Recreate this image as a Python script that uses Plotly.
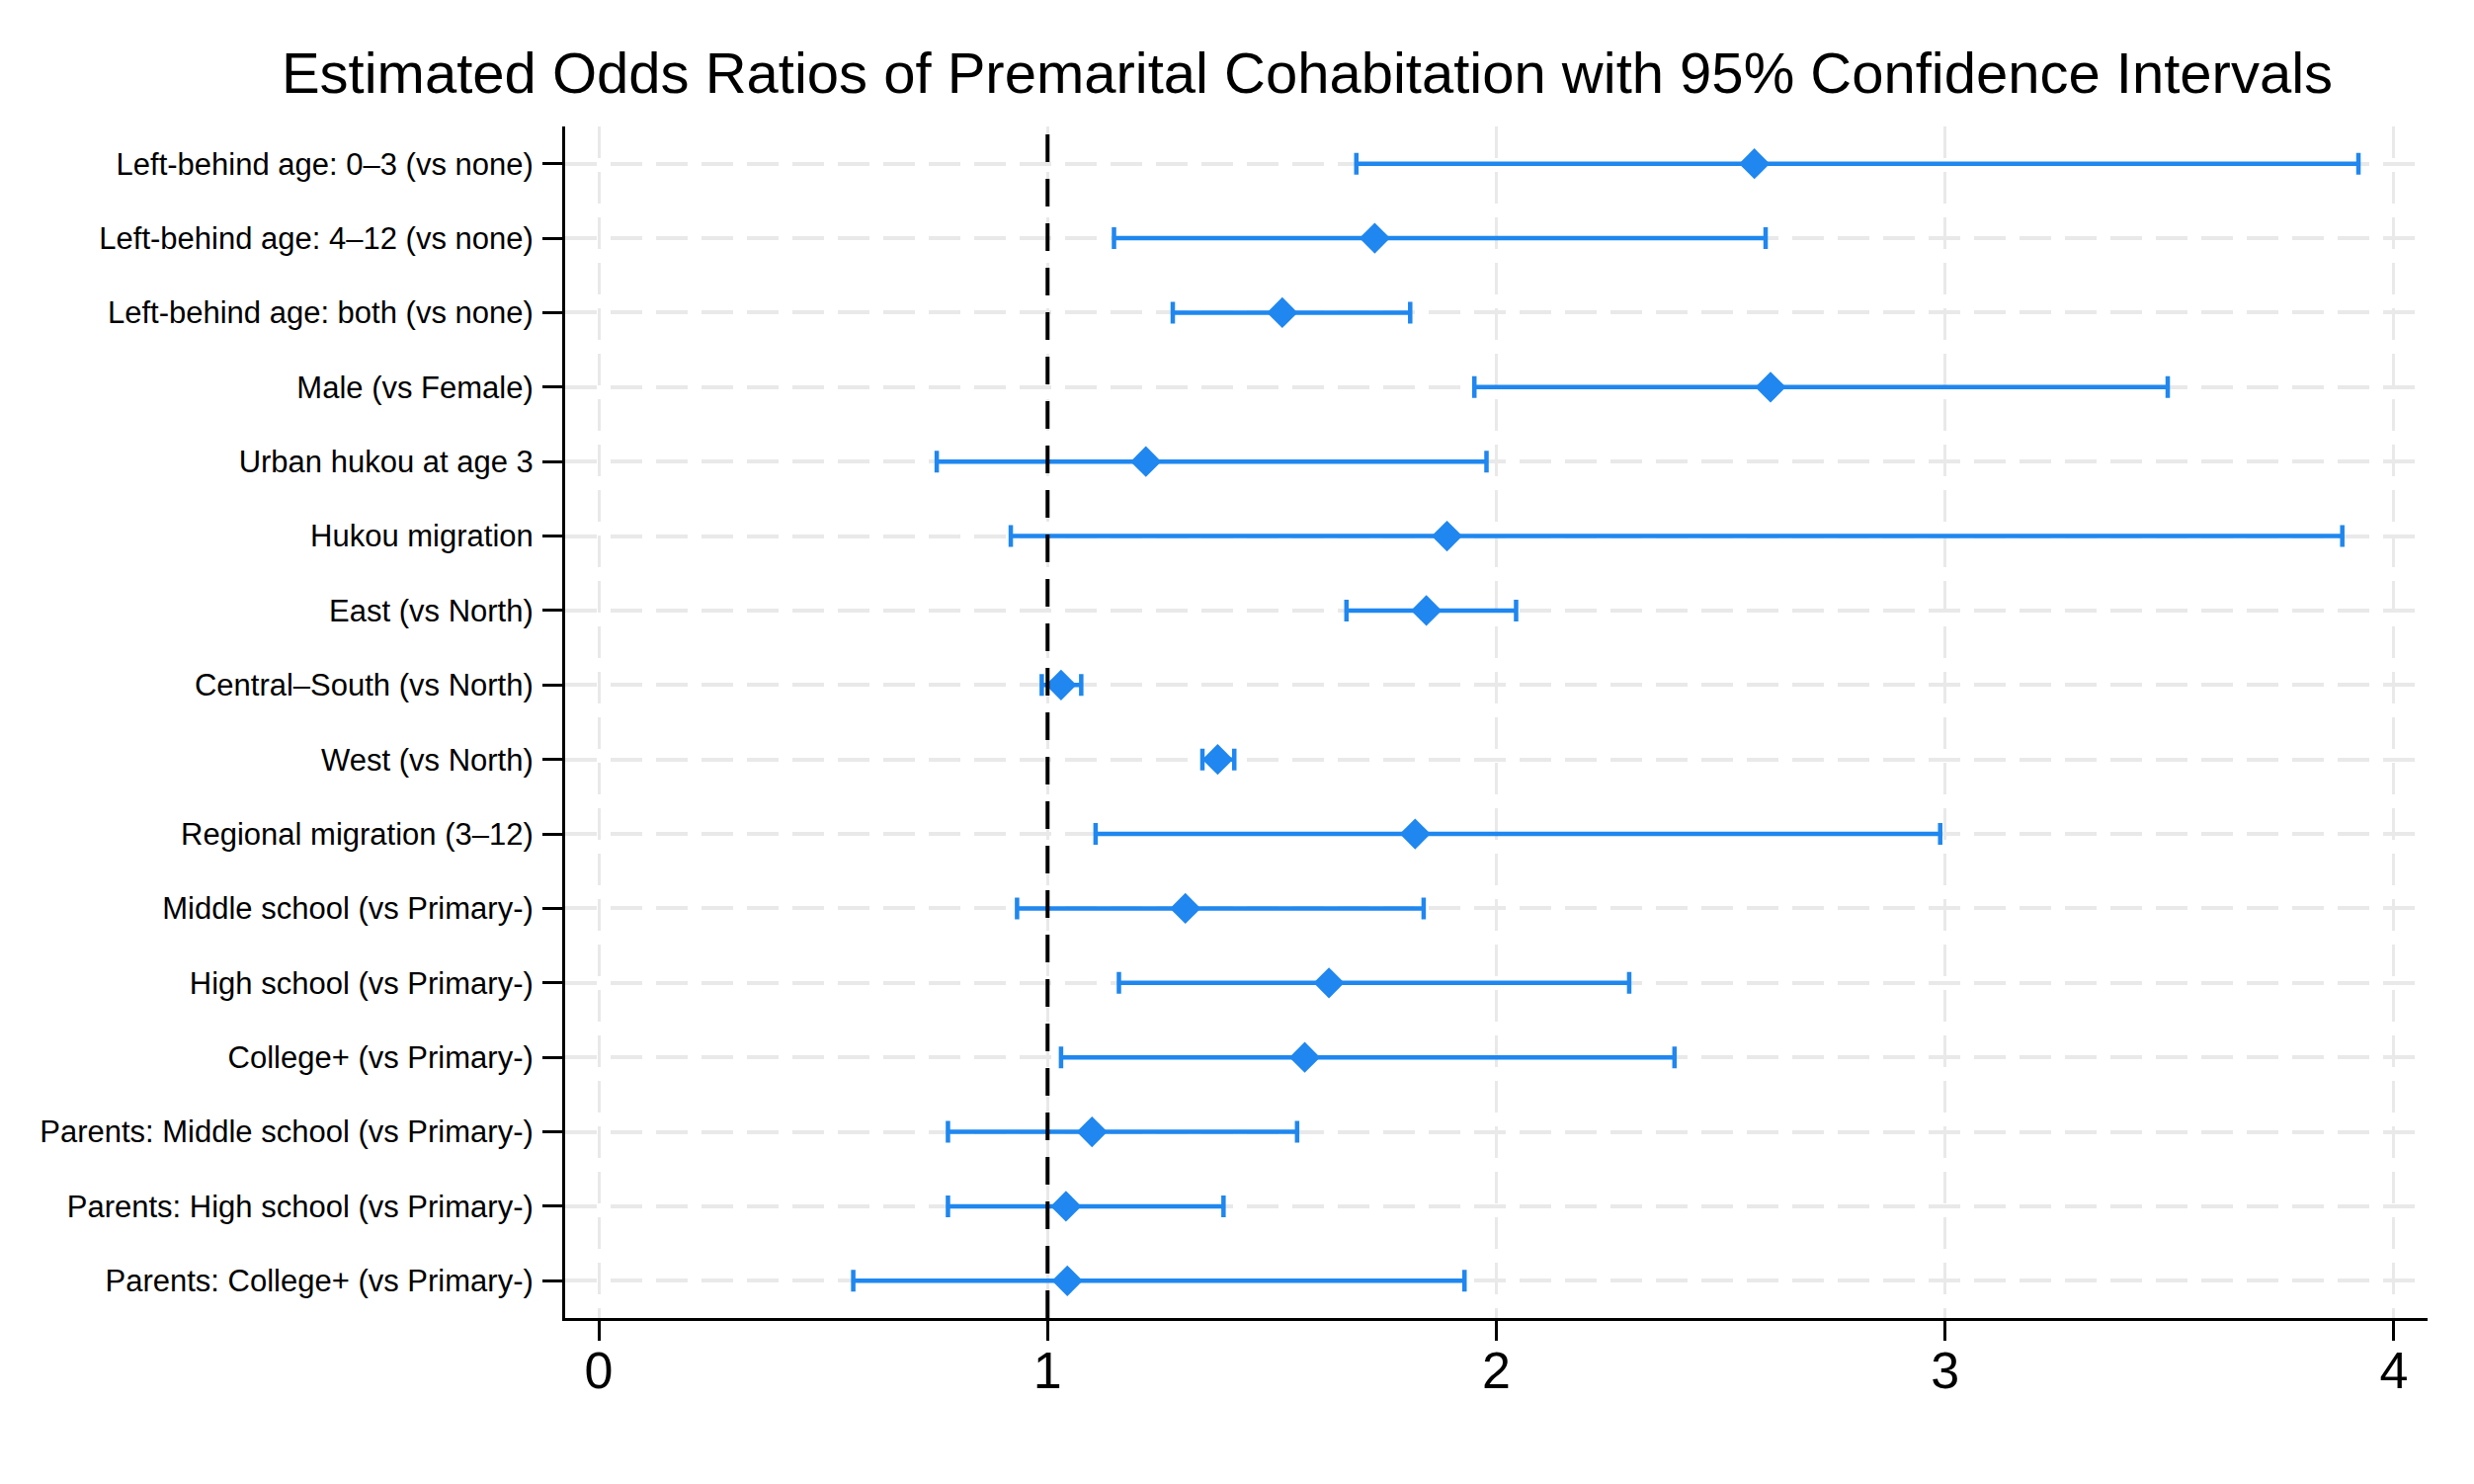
import plotly.graph_objects as go

labels = [
    "Left-behind age: 0–3 (vs none)",
    "Left-behind age: 4–12 (vs none)",
    "Left-behind age: both (vs none)",
    "Male (vs Female)",
    "Urban hukou at age 3",
    "Hukou migration",
    "East (vs North)",
    "Central–South (vs North)",
    "West (vs North)",
    "Regional migration (3–12)",
    "Middle school (vs Primary-)",
    "High school (vs Primary-)",
    "College+ (vs Primary-)",
    "Parents: Middle school (vs Primary-)",
    "Parents: High school (vs Primary-)",
    "Parents: College+ (vs Primary-)",
]
odds_ratio = [2.575, 1.729, 1.523, 2.611, 1.219, 1.890, 1.844, 1.030, 1.379,
              1.819, 1.307, 1.627, 1.573, 1.099, 1.041, 1.044]
ci_low = [1.688, 1.148, 1.279, 1.951, 0.753, 0.918, 1.666, 0.987, 1.345,
          1.107, 0.932, 1.159, 1.030, 0.778, 0.778, 0.567]
ci_high = [3.921, 2.600, 1.808, 3.496, 1.978, 3.885, 2.044, 1.075, 1.416,
           2.989, 1.838, 2.296, 2.397, 1.556, 1.392, 1.929]
x_ticks = [0, 1, 2, 3, 4]
ref_value = 1

blue = "#1f87ef"
grid = "#e9e9e9"
font_family = "Liberation Sans, Arial, Helvetica, sans-serif"

err_plus = [h - m for h, m in zip(ci_high, odds_ratio)]
err_minus = [m - l for m, l in zip(odds_ratio, ci_low)]

W, H = 2496, 1494

fig = go.Figure()
fig.add_trace(go.Scatter(
    x=odds_ratio,
    y=labels,
    mode="markers",
    marker=dict(symbol="diamond", size=24, color=blue),
    error_x=dict(type="data", symmetric=False, array=err_plus, arrayminus=err_minus,
                 color=blue, thickness=4.5, width=11),
    showlegend=False,
))

fig.add_shape(type="line", xref="x", yref="paper", x0=ref_value, x1=ref_value, y0=0, y1=1,
              line=dict(color="black", width=4, dash="28px,17px"))

fig.update_layout(
    width=W, height=H,
    margin=dict(l=564, r=47, t=120, b=168, pad=0),
    paper_bgcolor="white", plot_bgcolor="white",
    font=dict(family=font_family, color="black"),
    title=dict(
        text="Estimated Odds Ratios of Premarital Cohabitation with 95% Confidence Intervals",
        x=1315 / W, xanchor="center", xref="container",
        y=1 - 66 / H, yanchor="middle", yref="container",
        font=dict(size=58, family=font_family, color="black"),
    ),
    xaxis=dict(
        range=[-0.075, 4.075], tickvals=x_ticks, ticktext=[str(v) for v in x_ticks],
        showline=True, linecolor="black", linewidth=3,
        ticks="outside", ticklen=20, tickwidth=3, tickcolor="black",
        tickfont=dict(size=52, family=font_family, color="black"),
        ticklabelstandoff=-14,
        showgrid=True, gridcolor=grid, gridwidth=3, griddash="32px,14px",
        zeroline=False,
    ),
    yaxis=dict(
        categoryorder="array", categoryarray=labels,
        range=[len(labels) - 0.5, -0.5],
        showline=True, linecolor="black", linewidth=3,
        ticks="outside", ticklen=20, tickwidth=3, tickcolor="black",
        tickfont=dict(size=31, family=font_family, color="black"),
        ticklabelstandoff=3,
        showgrid=True, gridcolor=grid, gridwidth=4, griddash="32px,14px",
        zeroline=False,
    ),
)

fig.write_html("out.html")
